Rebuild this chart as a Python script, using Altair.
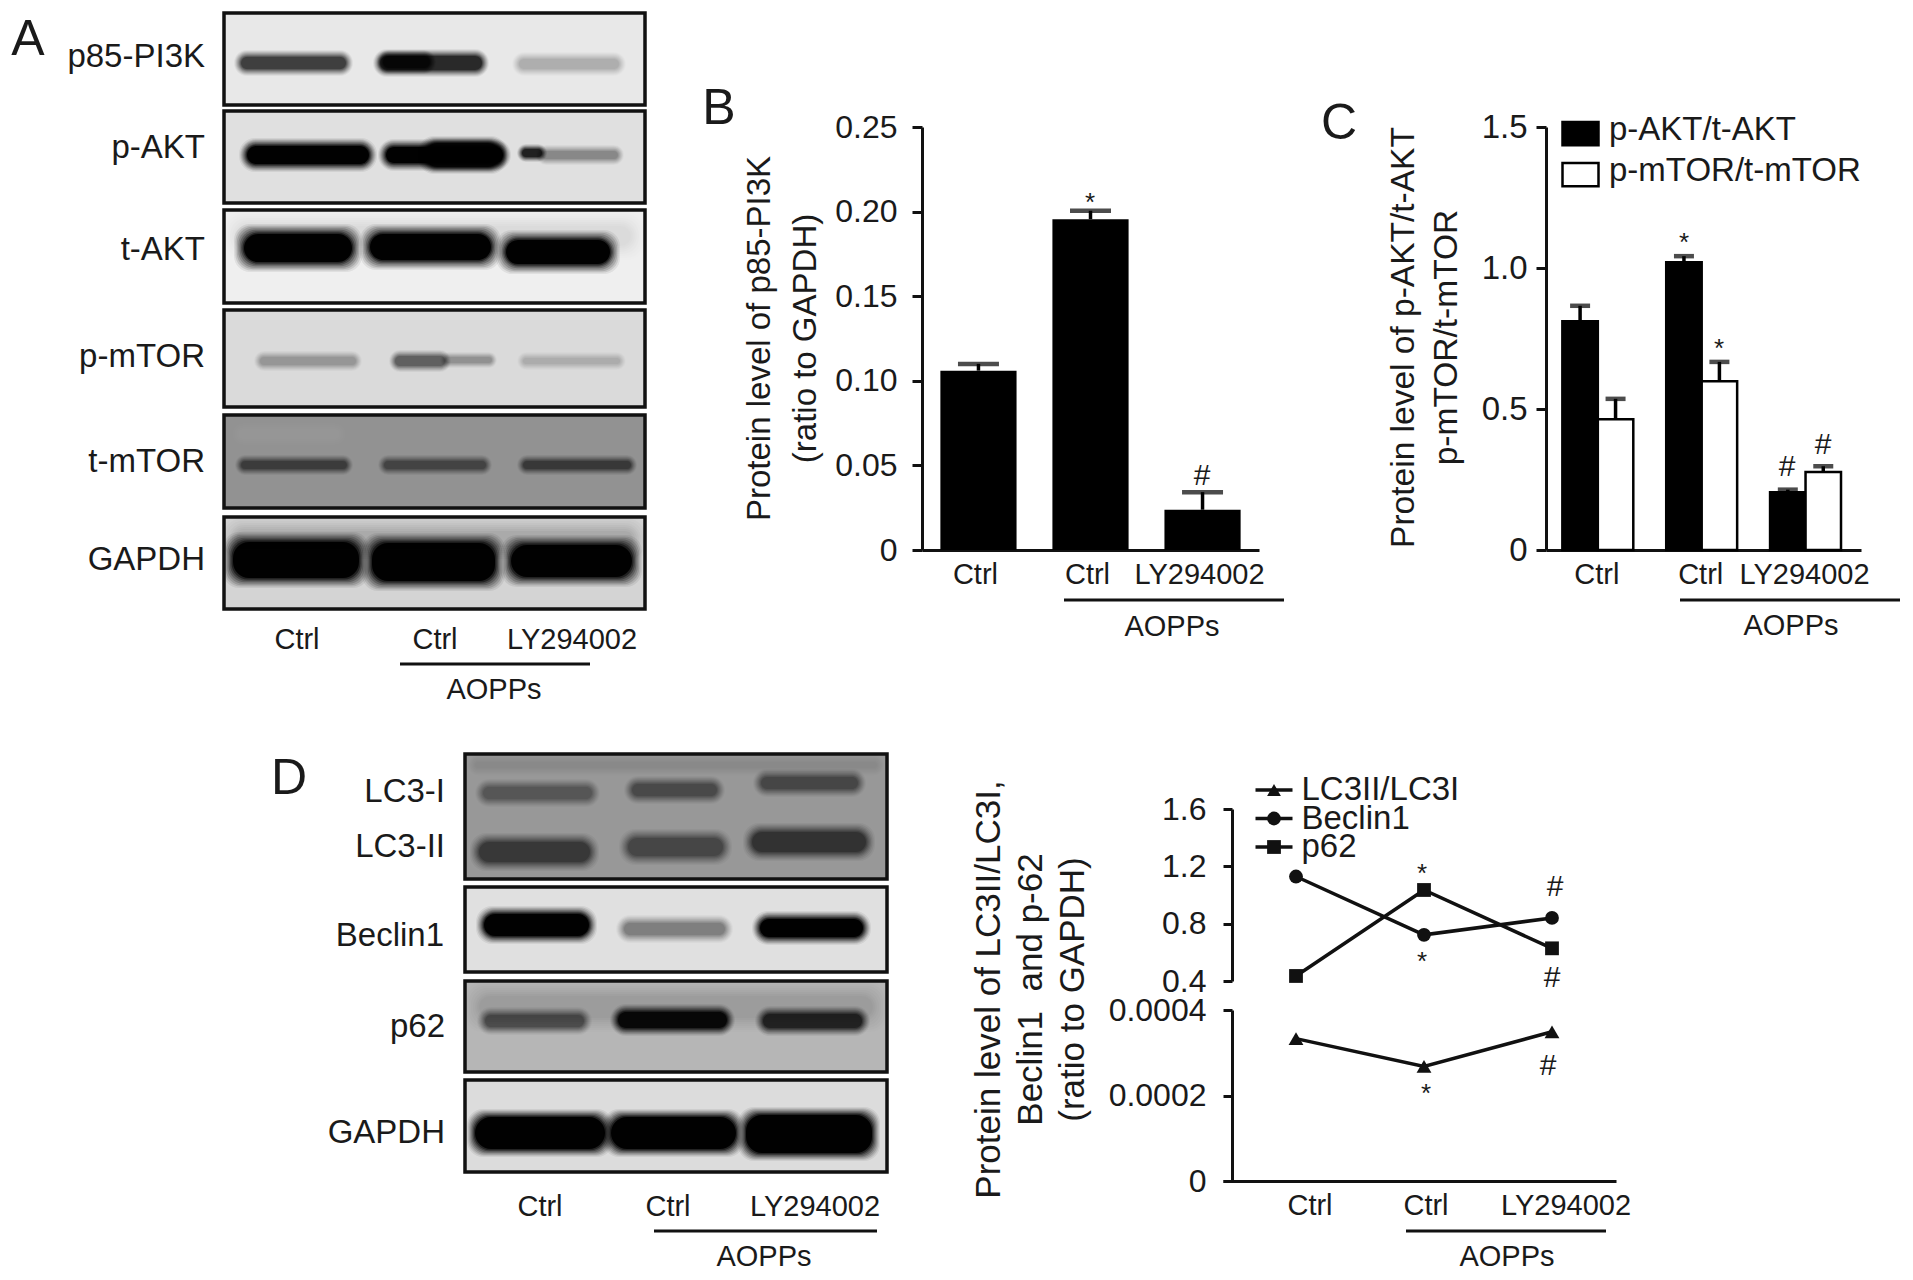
import altair as alt
import pandas as pd

FONT = "Liberation Sans"
INK = "#1a1a1a"
W, H = 1897, 1264

# ---- chart values ----
groups = ["Ctrl", "Ctrl ", "LY294002"]
b_mean = [0.106, 0.1955, 0.0238]
b_top = [0.110, 0.2005, 0.0342]
c_series = ["p-AKT/t-AKT", "p-mTOR/t-mTOR"]
c_akt = [0.811, 1.02, 0.205]
c_akt_top = [0.866, 1.042, 0.214]
c_mtor = [0.464, 0.598, 0.277]
c_mtor_top = [0.536, 0.667, 0.297]
d_beclin = [1.129, 0.722, 0.84]
d_p62 = [0.435, 1.035, 0.628]
d_lc3 = [0.000333, 0.000268, 0.000349]

# ---- western-blot panels: x0, x1, y0, y1, grey ----
blot_rows = [
    (224, 645, 13, 105, "#e8e8e8"), (224, 645, 111, 203, "#e0e0e0"), (224, 645, 210, 303, "#efefef"),
    (224, 645, 310, 407, "#dadada"), (224, 645, 415, 508, "#929292"), (224, 645, 517, 609, "#d4d4d4"),
    (465, 887, 754, 879, "#989898"), (465, 887, 887, 972, "#e0e0e0"), (465, 887, 981, 1072, "#b6b6b6"),
    (465, 887, 1080, 1172, "#dcdcdc"),
]
# bands: x0, x1, y centre, half height, darkness, blur
blot_bands = [
    # soft background shading
    (238, 631, 236, 10, 0.08, 14), (236, 633, 539, 8, 0.18, 14), (238, 340, 434, 5, -0.07, 14),
    (479, 873, 1007, 11, 0.12, 14), (475, 877, 765, 3, 0.08, 8),
    # p85-PI3K
    (241, 346, 63, 6, 0.72, 7), (380, 482, 63, 7, 0.82, 7), (383, 430, 62, 6, 0.8, 6), (519, 619, 64, 5, 0.24, 7),
    # p-AKT
    (247, 369, 155, 9, 1.0, 8), (386, 503, 155, 8, 1.0, 8), (425, 500, 155, 12, 0.95, 7),
    (522, 542, 153, 4, 0.85, 5), (542, 618, 155, 4, 0.38, 6),
    # t-AKT
    (244, 352, 248, 14, 1.0, 10), (370, 491, 247, 13, 1.0, 10), (506, 610, 252, 12, 1.0, 10),
    # p-mTOR
    (260, 356, 361, 4, 0.3, 6), (395, 445, 361, 5, 0.55, 6), (445, 492, 360, 3, 0.32, 5), (523, 620, 361, 3, 0.2, 6),
    # t-mTOR
    (241, 347, 465, 4, 0.58, 6), (384, 486, 465, 4, 0.52, 6), (523, 631, 465, 4, 0.6, 6),
    # GAPDH
    (233, 359, 560, 18, 1.0, 10), (372, 495, 562, 19, 1.0, 10), (511, 632, 561, 16, 1.0, 10),
    # LC3-I
    (483, 592, 793, 6, 0.42, 8), (632, 717, 790, 6, 0.5, 8), (761, 858, 783, 6, 0.52, 8),
    # LC3-II
    (479, 590, 852, 10, 0.62, 9), (628, 723, 847, 9, 0.52, 9), (752, 866, 842, 10, 0.66, 9),
    # Beclin1
    (484, 589, 925, 11, 1.0, 8), (624, 725, 929, 6, 0.42, 8), (760, 863, 928, 9, 1.0, 8),
    # p62
    (485, 584, 1021, 6, 0.55, 8), (618, 727, 1020, 8, 0.95, 8), (763, 862, 1021, 7, 0.8, 8),
    # GAPDH
    (475, 605, 1133, 16, 1.0, 8), (611, 736, 1133, 16, 1.0, 8), (746, 872, 1134, 19, 1.0, 8),
]

# ---- texts: text, x, y, font size ----
texts_center = [
    ("A", 28, 40, 50), ("B", 719, 109, 50), ("C", 1339, 124, 50), ("D", 289, 779, 50),
    ("Ctrl", 297, 640, 29), ("Ctrl", 435, 640, 29), ("LY294002", 572, 640, 29), ("AOPPs", 494, 690, 29),
    ("AOPPs", 1172, 627, 29), ("AOPPs", 1791, 626, 29),
    ("Ctrl", 540, 1207, 29), ("Ctrl", 668, 1207, 29), ("LY294002", 815, 1207, 29), ("AOPPs", 764, 1257, 29),
    ("Ctrl", 1310, 1206, 29), ("Ctrl", 1426, 1206, 29), ("LY294002", 1566, 1206, 29), ("AOPPs", 1507, 1257, 29),
    ("*", 1090, 203, 26), ("#", 1202, 476, 30),
    ("*", 1684, 243, 26), ("*", 1719, 349, 26), ("#", 1787, 467, 30), ("#", 1823, 445, 30),
    ("*", 1422, 874, 26), ("*", 1422, 962, 26), ("*", 1426, 1094, 26),
    ("#", 1555, 887, 30), ("#", 1552, 978, 30), ("#", 1548, 1066, 30),
]
texts_right = [
    ("p85-PI3K", 205, 57, 33), ("p-AKT", 205, 148, 33), ("t-AKT", 205, 250, 33),
    ("p-mTOR", 205, 357, 33), ("t-mTOR", 205, 462, 33), ("GAPDH", 205, 560, 33),
    ("LC3-I", 445, 792, 33), ("LC3-II", 445, 847, 33), ("Beclin1", 444, 936, 33),
    ("p62", 445, 1027, 33), ("GAPDH", 445, 1133, 33),
]
# group rules: x0, x1, y
group_rules = [(400, 590, 664), (1064, 1284, 600), (1680, 1900, 600), (654, 877, 1231), (1406, 1606, 1231)]

# D legend
d_names = ["LC3II/LC3I", "Beclin1", "p62"]
d_shapes = ["triangle-up", "circle", "square"]

# ---- helpers ----
CX = alt.Scale(domain=[0, 1913], range=[-8, 1905])
CY = alt.Scale(domain=[0, 1280], range=[-8, 1272])


def cx(f, **k):
    return alt.X(f, scale=CX, axis=None, **k)


def cy(f, **k):
    return alt.Y(f, scale=CY, axis=None, **k)


rows_df = pd.DataFrame(blot_rows, columns=["x0", "x1", "y0", "y1", "g"])
band_records = []
LAYERS = 8
for x0, x1, yc, hh, d, blur in blot_bands:
    shade = "white" if d < 0 else "black"
    d = min(abs(d), 0.995)
    prev = 0.0
    for k in range(LAYERS):
        level = d * ((k + 1) / LAYERS) ** 1.3
        a = 1 - (1 - level) / (1 - prev)
        prev = level
        e = blur * (1 - k / (LAYERS - 1))
        band_records.append(dict(x0=x0 - e, x1=x1 + e, y0=yc - hh - e, y1=yc + hh + e, a=a, c=shade))
bands_df = pd.DataFrame(band_records)

bg = alt.Chart(rows_df).mark_rect().encode(
    x=cx("x0:Q"), x2="x1:Q", y=cy("y0:Q"), y2="y1:Q", fill=alt.Fill("g:N", scale=None))
bands = alt.Chart(bands_df).mark_rect(cornerRadius=16).encode(
    x=cx("x0:Q"), x2="x1:Q", y=cy("y0:Q"), y2="y1:Q", opacity=alt.Opacity("a:Q", scale=None),
    fill=alt.Fill("c:N", scale=None))
frames = alt.Chart(rows_df).mark_rect(fillOpacity=0, stroke="#111", strokeWidth=3.5).encode(
    x=cx("x0:Q"), x2="x1:Q", y=cy("y0:Q"), y2="y1:Q")
rules_df = pd.DataFrame(group_rules, columns=["x0", "x1", "y"])
rules = alt.Chart(rules_df).mark_rule(color="#111", strokeWidth=3).encode(
    x=cx("x0:Q"), x2="x1:Q", y=cy("y:Q"))


def text_layer(rows, align):
    df = pd.DataFrame(rows, columns=["t", "x", "y", "fs"])
    return alt.Chart(df).mark_text(font=FONT, color=INK, align=align, baseline="middle").encode(
        x=cx("x:Q"), y=cy("y:Q"), text="t:N", size=alt.Size("fs:Q", scale=None))


canvas = alt.layer(bg, bands, frames, rules, text_layer(texts_center, "center"), text_layer(texts_right, "right"))

AX = dict(labelFont=FONT, titleFont=FONT, labelColor=INK, titleColor=INK, titleFontWeight="normal",
          domainColor="#111", tickColor="#111", domainWidth=3, tickWidth=3, grid=False,
          labelFlush=False, labelOverlap=False, titleAlign="center", titleAnchor="middle")


def xaxis(offset, **k):
    return alt.Axis(orient="bottom", offset=offset, title=None, ticks=False, labelFontSize=29,
                    labelAngle=0, **AX, **k)


# ---- B ----
b_df = pd.DataFrame({"g": groups, "m": b_mean, "t": b_top})
b_xscale = alt.Scale(domain=groups, range=[914, 1251], paddingInner=0.32, paddingOuter=0.164)
b_yscale = alt.Scale(domain=[0, 0.25], range=[542, 119], nice=False)
bx = alt.X("g:N", sort=groups, scale=b_xscale, axis=xaxis(-(H - 542), labelPadding=10, labelOffset=-3))
b_yaxis = alt.Axis(orient="left", offset=-914, values=[0, 0.05, 0.1, 0.15, 0.2, 0.25],
                   labelExpr="datum.value==0?'0':format(datum.value,'.2f')", tickSize=10, labelPadding=15,
                   labelFontSize=32, titleFontSize=33, titleLineHeight=46,
                   title=["Protein level of p85-PI3K", "(ratio to GAPDH)"], titleX=-146, titleY=330, **AX)
by = alt.Y("m:Q", scale=b_yscale, axis=b_yaxis)
b_base = alt.Chart(b_df)
B = alt.layer(
    b_base.mark_rule(color="black", strokeWidth=3.5).encode(x=bx, y=by, y2="t:Q"),
    b_base.mark_tick(color="black", orient="horizontal", size=41, thickness=4.5).encode(
        x=bx, y=alt.Y("t:Q", scale=b_yscale, axis=b_yaxis)),
    b_base.mark_bar(color="black").encode(x=bx, y=by),
)

# ---- C ----
c_df = pd.DataFrame({
    "g": groups * 2,
    "s": [c_series[0]] * 3 + [c_series[1]] * 3,
    "m": c_akt + c_mtor,
    "t": c_akt_top + c_mtor_top,
})
c_yscale = alt.Scale(domain=[0, 1.5], range=[542, 119], nice=False)
cxs = alt.X("g:N", sort=groups, scale=alt.Scale(domain=groups, range=[1538, 1853], paddingInner=0.317, paddingOuter=0.175, align=0.45),
            axis=xaxis(-(H - 542), labelPadding=10, labelOffset=-1))
cxo = alt.XOffset("s:N", sort=c_series, scale=alt.Scale(domain=c_series))
c_yaxis = alt.Axis(orient="left", offset=-1538, values=[0, 0.5, 1.0, 1.5],
                   labelExpr="datum.value==0?'0':format(datum.value,'.1f')", tickSize=10, labelPadding=9,
                   labelFontSize=33, titleFontSize=33.5, titleLineHeight=43,
                   title=["Protein level of p-AKT/t-AKT", "p-mTOR/t-mTOR"], titleX=-126, titleY=329, **AX)
cys = alt.Y("m:Q", scale=c_yscale, axis=c_yaxis)
c_base = alt.Chart(c_df)
C = alt.layer(
    c_base.mark_rule(color="black", strokeWidth=3.5).encode(x=cxs, xOffset=cxo, y=cys, y2="t:Q"),
    c_base.mark_tick(color="black", orient="horizontal", size=20, thickness=4.5).encode(
        x=cxs, xOffset=cxo, y=alt.Y("t:Q", scale=c_yscale, axis=c_yaxis)),
    c_base.mark_bar(stroke="black", strokeWidth=2.5).encode(
        x=cxs, xOffset=cxo, y=cys,
        fill=alt.Fill("s:N", sort=c_series, scale=alt.Scale(domain=c_series, range=["black", "white"]),
                      legend=alt.Legend(orient="none", legendX=1553, legendY=102, title=None, direction="vertical",
                                        symbolType="M-1,-0.42H1V0.88H-1Z", symbolSize=1296, symbolStrokeWidth=2.5,
                                        symbolStrokeColor="black", labelFont=FONT, labelFontSize=33, labelColor=INK,
                                        labelOffset=9, rowPadding=0, labelLimit=500))),
)

# ---- D line chart ----
d_up = pd.DataFrame({"g": groups * 2, "s": ["Beclin1"] * 3 + ["p62"] * 3, "v": d_beclin + d_p62})
d_lo = pd.DataFrame({"g": groups, "s": ["LC3II/LC3I"] * 3, "v": d_lc3})
dx_scale = alt.Scale(type="point", domain=groups, range=[1288, 1544], padding=0)
dshape = alt.Shape("s:N", scale=alt.Scale(domain=d_names, range=d_shapes), legend=None)
dyu = alt.Y("v:Q", scale=alt.Scale(domain=[0.4, 1.6], range=[973, 801], nice=False, zero=False),
            axis=alt.Axis(orient="left", offset=-1224, values=[0.4, 0.8, 1.2, 1.6], format=".1f", tickSize=9,
                          labelPadding=17, labelFontSize=32, title=None, **AX))
dyl = alt.Y("v:Q", scale=alt.Scale(domain=[0, 0.0004], range=[1173, 1002], nice=False),
            axis=alt.Axis(orient="left", offset=-1224, values=[0, 0.0002, 0.0004],
                          labelExpr="datum.value==0?'0':format(datum.value,'.4f')", tickSize=9, labelPadding=17,
                          labelFontSize=32, titleFontSize=35, titleLineHeight=42,
                          title=["Protein level of LC3II/LC3I,", "Beclin1\u00a0\u00a0and p-62", "(ratio to GAPDH)"],
                          titleX=-226, titleY=981, **AX))
dxu = alt.X("g:N", sort=groups, scale=dx_scale, axis=None)
D_up = alt.layer(
    alt.Chart(d_up).mark_line(color="#111", strokeWidth=3.5).encode(x=dxu, y=dyu, detail="s:N"),
    alt.Chart(d_up).mark_point(filled=True, color="#111", size=190, opacity=1).encode(x=dxu, y=dyu, shape=dshape),
)
D_lo = alt.layer(
    alt.Chart(d_lo).mark_line(color="#111", strokeWidth=3.5).encode(x=dxu, y=dyl, detail="s:N"),
    alt.Chart(d_lo).mark_point(filled=True, color="#111", size=220, opacity=1).encode(x=dxu, y=dyl, shape=dshape),
)
# baseline of the lower panel, as an axis with its own scale
dxl_axis = alt.Axis(orient="bottom", offset=-(H - 1173), title=None, ticks=False, labels=False,
                    domainColor="#111", domainWidth=3, grid=False)
D_base = alt.Chart(pd.DataFrame({"k": [0, 1], "v": [0, 0]})).mark_line(opacity=0).encode(
    x=alt.X("k:Q", scale=alt.Scale(domain=[0, 1], range=[1215, 1608]), axis=dxl_axis),
    y=alt.Y("v:Q", scale=alt.Scale(domain=[0, 1], range=[1173, 1000]), axis=None),
)

# D legend
leg_df = pd.DataFrame({"s": d_names, "x0": [1255.5] * 3, "x1": [1292.5] * 3, "xm": [1274] * 3, "xt": [1301.5] * 3,
                       "y": [790, 818.5, 847]})
D_leg = alt.layer(
    alt.Chart(leg_df).mark_rule(color="#111", strokeWidth=3.5).encode(x=cx("x0:Q"), x2="x1:Q", y=cy("y:Q")),
    alt.Chart(leg_df).mark_point(filled=True, color="#111", size=190, opacity=1).encode(x=cx("xm:Q"), y=cy("y:Q"), shape=dshape),
    alt.Chart(leg_df).mark_text(font=FONT, fontSize=33, color=INK, align="left", baseline="middle").encode(
        x=cx("xt:Q"), y=cy("y:Q"), text="s:N"),
)

chart = alt.layer(canvas, B, C, D_up, D_lo, D_base, D_leg).resolve_scale(
    x="independent", y="independent"
).properties(
    width=W, height=H, padding=0, autosize=alt.AutoSizeParams(type="none"), background="white"
).configure_view(strokeWidth=0)

chart.save("out.html", embed_options={"renderer": "svg", "actions": False})
